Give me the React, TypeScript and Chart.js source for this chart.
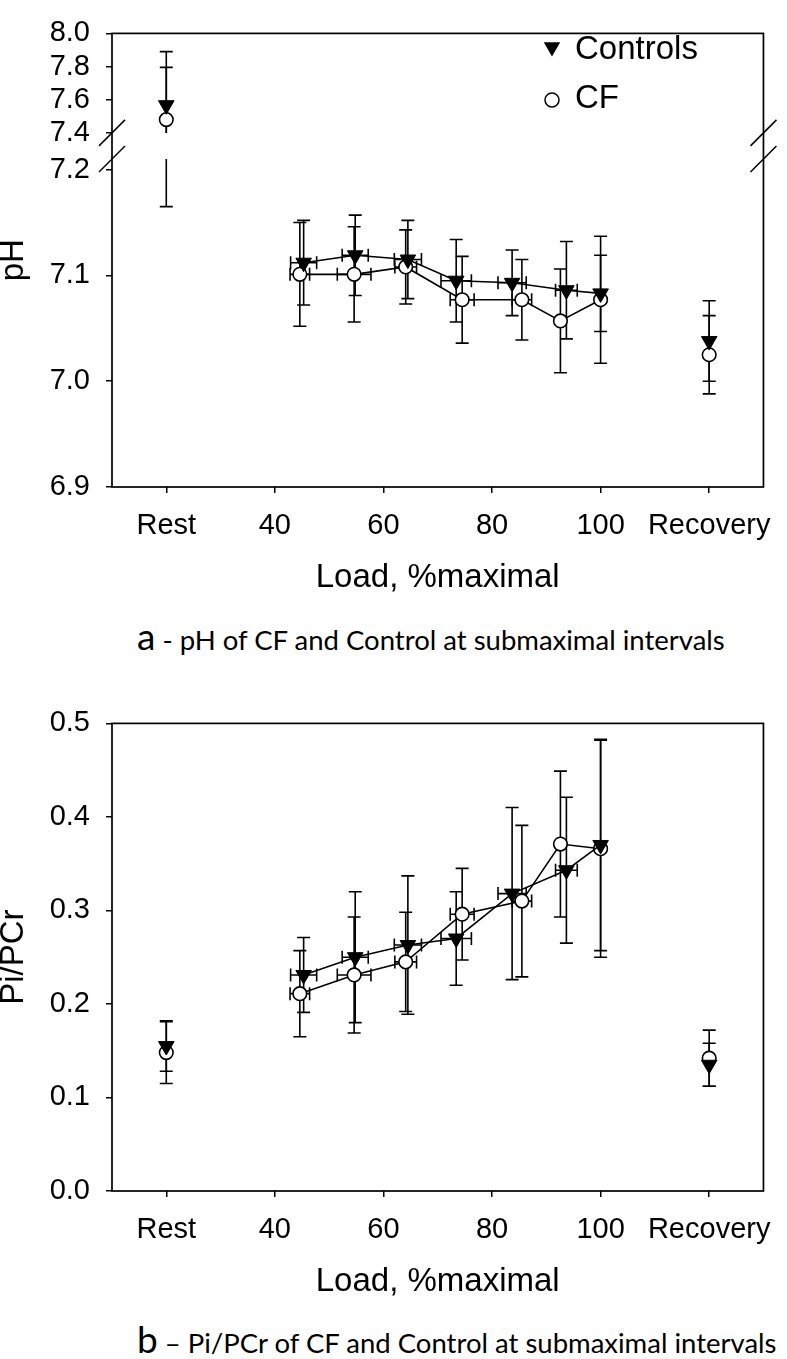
import React, { useEffect, useRef } from 'react';
import { Chart, registerables } from 'chart.js';

Chart.register(...registerables);

// ---------- shared x axis ----------
const xTickValues = [20, 40, 60, 80, 100, 120];
const xTickLabels = ['Rest', '40', '60', '80', '100', 'Recovery'];
const restRecoveryX = [20, 120];

// exercise loads (% maximal) and their SDs
const loadControls = [45.3, 54.8, 64.5, 73.4, 83.7, 93.7, 100];
const loadSdControls = [2.4, 2.4, 2.5, 2.8, 2.6, 2.0, 0];
const loadCF = [44.6, 54.6, 64.1, 74.5, 85.5, 92.6, 100];
const loadSdCF = [1.8, 3.1, 2.0, 2.2, 1.8, 0, 0];

// ---------- panel a: pH ----------
const phControls = [7.112, 7.119, 7.115, 7.095, 7.093, 7.086, 7.083];
const phSdControls = [0.04, 0.038, 0.037, 0.039, 0.031, 0.046, 0.036];
const phCF = [7.101, 7.101, 7.108, 7.077, 7.077, 7.057, 7.077];
const phSdCF = [0.049, 0.045, 0.035, 0.041, 0.038, 0.049, 0.06];
// [Rest, Recovery]
const phRestRecoveryControls = [7.567, 7.038];
const phRestRecoverySdControls = [0.323, 0.038];
const phRestRecoveryCF = [7.48, 7.025];
const phRestRecoverySdCF = [0.315, 0.037];
const phTicksLow = [6.9, 7.0, 7.1, 7.2];
const phTicksHigh = [7.4, 7.6, 7.8, 8.0];

// ---------- panel b: Pi/PCr ----------
const piControls = [0.231, 0.25, 0.263, 0.27, 0.318, 0.343, 0.37];
const piSdControls = [0.04, 0.07, 0.074, 0.05, 0.092, 0.078, 0.113];
const piCF = [0.211, 0.231, 0.245, 0.296, 0.31, 0.371, 0.366];
const piSdCF = [0.046, 0.062, 0.053, 0.049, 0.081, 0.078, 0.116];
const piRestRecoveryControls = [0.155, 0.135];
const piRestRecoverySdControls = [0.027, 0.023];
const piRestRecoveryCF = [0.148, 0.142];
const piRestRecoverySdCF = [0.033, 0.03];
const piTicks = [0, 0.1, 0.2, 0.3, 0.4, 0.5];

const FONT = "'Liberation Sans', Arial, Helvetica, sans-serif";
const CAPTION_FONT = "Lato, 'Open Sans', sans-serif";
const INK = '#000';

function trianglePath(ctx: CanvasRenderingContext2D, x: number, y: number, r: number) {
  const s = r * Math.sin(Math.PI / 3);
  ctx.beginPath();
  ctx.moveTo(x, y + r);
  ctx.lineTo(x - s, y - r / 2);
  ctx.lineTo(x + s, y - r / 2);
  ctx.closePath();
}

const errorBarPlugin = {
  id: 'errorBars',
  beforeDatasetsDraw(chart: any, _args: any, opts: any) {
    const ctx: CanvasRenderingContext2D = chart.ctx;
    const intervals = opts.intervals as { axis: string; lo: number; hi: number }[];
    const xs = chart.scales.x;
    const cap = 6.5;
    ctx.save();
    ctx.strokeStyle = INK;
    ctx.lineWidth = 1.6;
    chart.data.datasets.forEach((ds: any, i: number) => {
      const meta = chart.getDatasetMeta(i);
      ds.data.forEach((pt: any, j: number) => {
        const el = meta.data[j];
        if (!el) return;
        const px = el.x;
        const py = el.y;
        const ey = ds.errY ? ds.errY[j] : 0;
        const ex = ds.errX ? ds.errX[j] : 0;
        if (ey > 0) {
          const lo = pt.y - ey;
          const hi = pt.y + ey;
          for (const iv of intervals) {
            const a = Math.max(lo, iv.lo);
            const b = Math.min(hi, iv.hi);
            if (a >= b) continue;
            const sc = chart.scales[iv.axis];
            const ya = sc.getPixelForValue(a);
            const yb = sc.getPixelForValue(b);
            ctx.beginPath();
            ctx.moveTo(px, ya);
            ctx.lineTo(px, yb);
            if (a === lo) {
              ctx.moveTo(px - cap, ya);
              ctx.lineTo(px + cap, ya);
            }
            if (b === hi) {
              ctx.moveTo(px - cap, yb);
              ctx.lineTo(px + cap, yb);
            }
            ctx.stroke();
          }
        }
        if (ex > 0) {
          const xa = xs.getPixelForValue(pt.x - ex);
          const xb = xs.getPixelForValue(pt.x + ex);
          ctx.beginPath();
          ctx.moveTo(xa, py);
          ctx.lineTo(xb, py);
          ctx.moveTo(xa, py - cap);
          ctx.lineTo(xa, py + cap);
          ctx.moveTo(xb, py - cap);
          ctx.lineTo(xb, py + cap);
          ctx.stroke();
        }
      });
    });
    ctx.restore();
  },
};

const framePlugin = {
  id: 'frame',
  beforeDatasetsDraw(chart: any) {
    const { left, top, right, bottom } = chart.chartArea;
    const ctx: CanvasRenderingContext2D = chart.ctx;
    ctx.save();
    ctx.strokeStyle = INK;
    ctx.lineWidth = 1.7;
    ctx.strokeRect(left, top, right - left, bottom - top);
    ctx.restore();
  },
};

const extrasPlugin = {
  id: 'extras',
  afterDraw(chart: any, _args: any, opts: any) {
    const ctx: CanvasRenderingContext2D = chart.ctx;
    const area = chart.chartArea;
    ctx.save();
    if (opts.yTitle) {
      ctx.translate(13.5, (area.top + area.bottom) / 2);
      ctx.rotate(-Math.PI / 2);
      ctx.font = `33px ${FONT}`;
      ctx.fillStyle = INK;
      ctx.textAlign = 'center';
      ctx.textBaseline = 'middle';
      ctx.fillText(opts.yTitle, 0, 0);
      ctx.setTransform(1, 0, 0, 1, 0, 0);
    }
    if (opts.breakAxis) {
      const yTop = chart.scales.yTop;
      const yLow = chart.scales.y;
      const c1 = yTop.getPixelForValue(opts.breakAxis[1]);
      const c2 = yLow.getPixelForValue(opts.breakAxis[0]);
      ctx.strokeStyle = INK;
      ctx.lineWidth = 1.5;
      for (const x of [area.left, area.right]) {
        for (const c of [c1, c2]) {
          ctx.beginPath();
          ctx.moveTo(x - 13, c + 13);
          ctx.lineTo(x + 13, c - 13);
          ctx.stroke();
        }
      }
    }
    if (opts.legend) {
      ctx.fillStyle = INK;
      ctx.strokeStyle = INK;
      ctx.lineWidth = 1.5;
      trianglePath(ctx, 552, 47, 9.5);
      ctx.fill();
      ctx.beginPath();
      ctx.arc(552, 100, 7, 0, Math.PI * 2);
      ctx.fillStyle = '#fff';
      ctx.fill();
      ctx.stroke();
      ctx.fillStyle = INK;
      ctx.font = `33px ${FONT}`;
      ctx.textAlign = 'left';
      ctx.textBaseline = 'alphabetic';
      ctx.fillText(opts.legend[0], 575, 59);
      ctx.fillText(opts.legend[1], 575, 108);
    }
    ctx.restore();
  },
};

function xScale(): any {
  return {
    type: 'linear',
    position: 'bottom',
    min: 10,
    max: 130,
    afterBuildTicks: (s: any) => {
      s.ticks = xTickValues.map((v) => ({ value: v }));
    },
    ticks: {
      autoSkip: false,
      maxRotation: 0,
      callback: (_v: any, i: number) => xTickLabels[i],
      font: { family: FONT, size: 29 },
      color: INK,
      padding: 15.5,
    },
    grid: { drawOnChartArea: false, drawTicks: true, tickLength: 6, color: INK, lineWidth: 1.5 },
    border: { display: false },
    title: {
      display: true,
      text: 'Load, %maximal',
      font: { family: FONT, size: 33, lineHeight: 1.2 },
      color: INK,
      padding: 0,
    },
    afterFit: (s: any) => {
      s.height = 111;
    },
  };
}

function yScale(min: number, max: number, ticks: number[], extra: any): any {
  return {
    type: 'linear',
    position: 'left',
    min,
    max,
    afterBuildTicks: (s: any) => {
      s.ticks = ticks.map((v) => ({ value: v }));
    },
    ticks: {
      autoSkip: false,
      callback: (v: any) => Number(v).toFixed(1),
      font: { family: FONT, size: 29 },
      color: INK,
      padding: 16,
    },
    grid: { drawOnChartArea: false, drawTicks: true, tickLength: 6, color: INK, lineWidth: 1.5 },
    border: { display: false },
    afterFit: (s: any) => {
      s.width = 112;
    },
    ...extra,
  };
}

const controlsStyle = {
  borderColor: INK,
  borderWidth: 1.6,
  pointStyle: 'triangle',
  pointRotation: 180,
  pointRadius: 9,
  pointBackgroundColor: INK,
  pointBorderColor: INK,
  pointBorderWidth: 1,
};
const cfStyle = {
  borderColor: INK,
  borderWidth: 1.6,
  pointStyle: 'circle',
  pointRadius: 6.8,
  pointBackgroundColor: '#fff',
  pointBorderColor: INK,
  pointBorderWidth: 1.6,
};

function pts(xs: number[], ys: number[]) {
  return xs.map((x, i) => ({ x, y: ys[i] }));
}

function configA(): any {
  return {
    type: 'scatter',
    data: {
      datasets: [
        { ...controlsStyle, label: 'Controls', showLine: true, yAxisID: 'y', data: pts(loadControls, phControls), errY: phSdControls, errX: loadSdControls },
        { ...controlsStyle, label: 'Controls rest', showLine: false, yAxisID: 'yTop', data: [{ x: restRecoveryX[0], y: phRestRecoveryControls[0] }], errY: [phRestRecoverySdControls[0]] },
        { ...controlsStyle, label: 'Controls recovery', showLine: false, yAxisID: 'y', data: [{ x: restRecoveryX[1], y: phRestRecoveryControls[1] }], errY: [phRestRecoverySdControls[1]] },
        { ...cfStyle, label: 'CF', showLine: true, yAxisID: 'y', data: pts(loadCF, phCF), errY: phSdCF, errX: loadSdCF },
        { ...cfStyle, label: 'CF rest', showLine: false, yAxisID: 'yTop', data: [{ x: restRecoveryX[0], y: phRestRecoveryCF[0] }], errY: [phRestRecoverySdCF[0]] },
        { ...cfStyle, label: 'CF recovery', showLine: false, yAxisID: 'y', data: [{ x: restRecoveryX[1], y: phRestRecoveryCF[1] }], errY: [phRestRecoverySdCF[1]] },
      ],
    },
    options: {
      animation: false,
      responsive: false,
      events: [],
      layout: { padding: { left: 0, right: 13, top: 13, bottom: 2 } },
      scales: {
        x: xScale(),
        y: yScale(6.9, 7.222, phTicksLow, { stack: 'ph', stackWeight: 356, weight: 0 }),
        yTop: yScale(7.319, 8.0, phTicksHigh, { stack: 'ph', stackWeight: 118, weight: 1 }),
      },
      plugins: {
        legend: { display: false },
        tooltip: { enabled: false },
        errorBars: {
          intervals: [
            { axis: 'y', lo: 6.9, hi: 7.21 },
            { axis: 'yTop', lo: 7.4, hi: 8.0 },
          ],
        },
        extras: { yTitle: 'pH', breakAxis: [7.21, 7.4], legend: ['Controls', 'CF'] },
      },
    },
    plugins: [framePlugin, errorBarPlugin, extrasPlugin],
  };
}

function configB(): any {
  return {
    type: 'scatter',
    data: {
      datasets: [
        { ...controlsStyle, label: 'Controls', showLine: true, data: pts(loadControls, piControls), errY: piSdControls, errX: loadSdControls },
        { ...controlsStyle, label: 'Controls rest/recovery', showLine: false, data: pts(restRecoveryX, piRestRecoveryControls), errY: piRestRecoverySdControls },
        { ...cfStyle, label: 'CF', showLine: true, data: pts(loadCF, piCF), errY: piSdCF, errX: loadSdCF },
        { ...cfStyle, label: 'CF rest/recovery', showLine: false, data: pts(restRecoveryX, piRestRecoveryCF), errY: piRestRecoverySdCF },
      ],
    },
    options: {
      animation: false,
      responsive: false,
      events: [],
      layout: { padding: { left: 0, right: 13, top: 23, bottom: 0 } },
      scales: {
        x: xScale(),
        y: yScale(0, 0.5, piTicks, {
          title: {
            display: true,
            text: 'Pi/PCr',
            font: { family: FONT, size: 33, lineHeight: 0.82 },
            color: INK,
            padding: 0,
          },
        }),
      },
      plugins: {
        legend: { display: false },
        tooltip: { enabled: false },
        errorBars: { intervals: [{ axis: 'y', lo: 0, hi: 0.5 }] },
        extras: {},
      },
    },
    plugins: [framePlugin, errorBarPlugin, extrasPlugin],
  };
}

function captionStyle(top: number): React.CSSProperties {
  return {
    position: 'absolute',
    left: 137,
    top,
    fontFamily: CAPTION_FONT,
    color: INK,
    lineHeight: 1,
    fontSize: 37,
    whiteSpace: 'nowrap',
  };
}

export default function App() {
  const refA = useRef<HTMLCanvasElement>(null);
  const refB = useRef<HTMLCanvasElement>(null);

  useEffect(() => {
    const a = new Chart(refA.current as HTMLCanvasElement, configA());
    const b = new Chart(refB.current as HTMLCanvasElement, configB());
    return () => {
      a.destroy();
      b.destroy();
    };
  }, []);

  return (
    <div style={{ position: 'absolute', left: 0, top: 0, width: 787, height: 1359, background: '#fff', overflow: 'hidden' }}>
      <canvas ref={refA} width={787} height={600} style={{ position: 'absolute', left: 0, top: 0, width: 787, height: 600 }} />
      <div style={captionStyle(617)}>
        <span>a</span>
        <span style={{ fontSize: 27.5 }}> - pH of CF and Control at submaximal intervals</span>
      </div>
      <canvas ref={refB} width={787} height={612} style={{ position: 'absolute', left: 0, top: 690, width: 787, height: 612 }} />
      <div style={captionStyle(1320)}>
        <span>b</span>
        <span style={{ fontSize: 27.5 }}> – Pi/PCr of CF and Control at submaximal intervals</span>
      </div>
    </div>
  );
}
